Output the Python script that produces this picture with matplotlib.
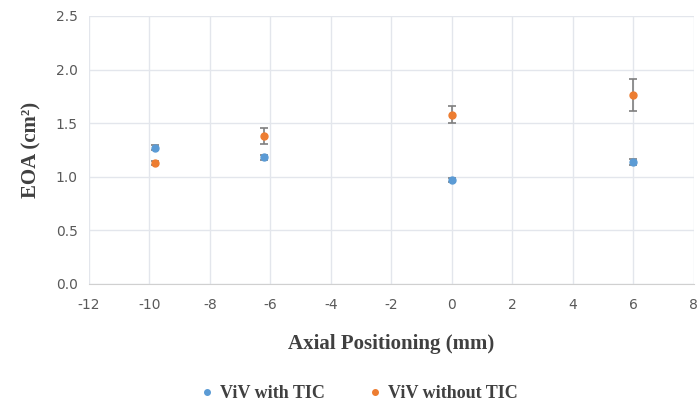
import matplotlib.pyplot as plt

# data
x_with = [-9.8, -6.2, 0, 6]
eoa_with = [1.27, 1.18, 0.97, 1.14]
err_with = [0.025, 0.02, 0.02, 0.03]

x_without = [-9.8, -6.2, 0, 6]
eoa_without = [1.13, 1.38, 1.58, 1.76]
err_without = [0.02, 0.07, 0.08, 0.15]

xticks = [-12, -10, -8, -6, -4, -2, 0, 2, 4, 6, 8]
yticks = [0.0, 0.5, 1.0, 1.5, 2.0, 2.5]

plt.rcParams['axes.unicode_minus'] = False

fig = plt.figure(figsize=(7, 4.08), dpi=100)
ax = fig.add_axes([0.127, 0.304, 0.864, 0.657])

ax.errorbar(x_with, eoa_with, yerr=err_with, fmt='o', color='#5B9BD5',
            ms=5, ecolor='#7f7f7f', elinewidth=1.2, capsize=3, capthick=1.2,
            label='ViV with TIC', zorder=3)
ax.errorbar(x_without, eoa_without, yerr=err_without, fmt='o', color='#ED7D31',
            ms=5, ecolor='#7f7f7f', elinewidth=1.2, capsize=3, capthick=1.2,
            label='ViV without TIC', zorder=3)

ax.set_xlim(-12, 8)
ax.set_ylim(0, 2.5)
ax.set_xticks(xticks)
ax.set_xticklabels([str(v) for v in xticks])
ax.set_yticks(yticks)
ax.set_yticklabels([f'{v:.1f}' for v in yticks])
ax.grid(True, color='#e3e6ec', linewidth=1)
ax.set_axisbelow(True)
for s in ['top', 'right', 'left']:
    ax.spines[s].set_visible(False)
ax.spines['bottom'].set_color('#d0d0d0')
ax.tick_params(length=0, labelsize=10, colors='#595959')
ax.tick_params(axis='x', pad=10)
ax.tick_params(axis='y', pad=8)

serif = {'family': 'Liberation Serif', 'weight': 'bold'}
ax.set_xlabel('Axial Positioning (mm)', fontdict=serif, fontsize=15, color='#404040', labelpad=16)
ax.set_ylabel('EOA (cm²)', fontdict=serif, fontsize=15, color='#404040', labelpad=10)

handles, labels = ax.get_legend_handles_labels()
handles = [h[0] for h in handles]
leg = fig.legend(handles, labels, loc='center', bbox_to_anchor=(0.51, 0.035), ncol=2,
                 frameon=False, prop={'family': 'Liberation Serif', 'weight': 'bold', 'size': 13},
                 handletextpad=0.1, columnspacing=2.2, handlelength=1.2, markerscale=0.8)
for t in leg.get_texts():
    t.set_color('#404040')

fig.savefig('out.png', dpi=100)
